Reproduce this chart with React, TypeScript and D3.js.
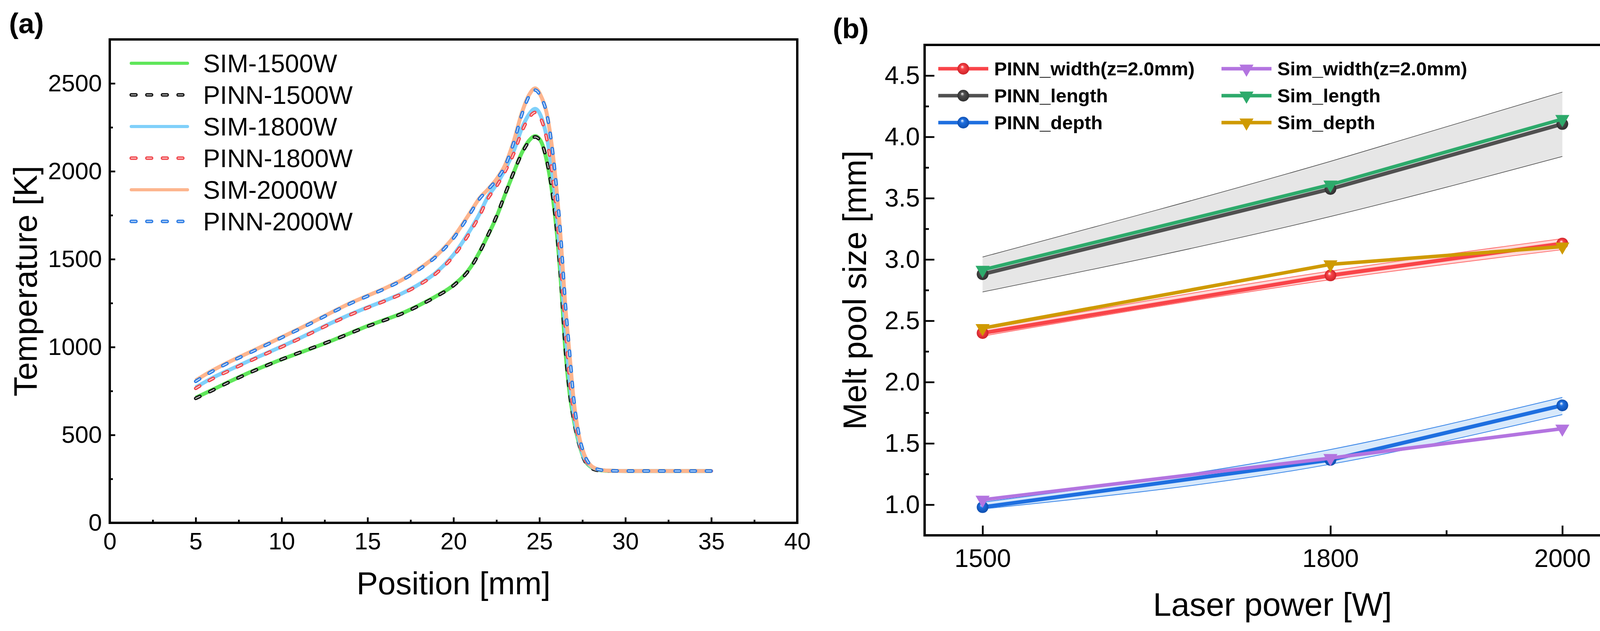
import React, { useEffect, useRef } from 'react';
import * as d3 from 'd3';

const FONT = '"Liberation Sans", Arial, Helvetica, sans-serif';

// ---------- (a) temperature along the track ----------
const positions = [5, 6, 7, 8, 9, 10, 11, 12, 13, 14, 15, 16, 17, 18, 19, 20, 21, 21.5, 22, 22.5, 23, 23.5, 24, 24.4, 24.75, 25.1, 25.4, 25.7, 26, 26.25, 26.5, 26.75, 27, 27.3, 27.6, 28, 28.5, 29, 30, 31, 32, 33, 34, 35];
const sim1500 = [712, 758, 805, 850, 891, 930, 966, 1002, 1040, 1080, 1120, 1155, 1192, 1238, 1290, 1352, 1455, 1538, 1635, 1740, 1868, 1993, 2110, 2175, 2200, 2168, 2070, 1905, 1660, 1365, 990, 740, 585, 452, 364, 318, 300, 296, 295, 295, 295, 295, 295, 295];
const pinn1500 = [708, 755, 803, 848, 890, 930, 967, 1003, 1040, 1079, 1118, 1153, 1190, 1236, 1288, 1350, 1452, 1536, 1636, 1744, 1870, 1994, 2106, 2170, 2195, 2165, 2072, 1910, 1668, 1372, 998, 745, 582, 448, 360, 312, 297, 295, 295, 295, 295, 295, 295, 295];
const sim1800 = [770, 826, 872, 917, 960, 1003, 1048, 1095, 1142, 1186, 1226, 1264, 1305, 1357, 1425, 1525, 1670, 1755, 1855, 1925, 2010, 2115, 2250, 2325, 2355, 2310, 2205, 2025, 1765, 1450, 1110, 815, 615, 465, 370, 322, 302, 297, 295, 295, 295, 295, 295, 295];
const pinn1800 = [765, 821, 868, 914, 958, 1001, 1046, 1093, 1140, 1184, 1224, 1262, 1303, 1354, 1420, 1518, 1660, 1745, 1845, 1915, 2000, 2100, 2232, 2305, 2335, 2295, 2195, 2020, 1770, 1460, 1125, 828, 622, 470, 372, 323, 302, 297, 295, 295, 295, 295, 295, 295];
const sim2000 = [810, 868, 918, 964, 1010, 1056, 1103, 1152, 1202, 1250, 1292, 1334, 1382, 1445, 1520, 1625, 1770, 1845, 1897, 1955, 2035, 2170, 2340, 2435, 2472, 2425, 2340, 2160, 1890, 1600, 1240, 960, 690, 495, 390, 325, 302, 297, 295, 295, 295, 295, 295, 295];
const pinn2000 = [805, 864, 915, 961, 1007, 1054, 1101, 1150, 1200, 1248, 1290, 1332, 1380, 1442, 1516, 1620, 1765, 1842, 1895, 1952, 2030, 2162, 2330, 2428, 2462, 2420, 2338, 2162, 1898, 1612, 1255, 972, 700, 500, 392, 326, 302, 297, 295, 295, 295, 295, 295, 295];
const positionTicks = [0, 5, 10, 15, 20, 25, 30, 35, 40];
const positionMinor = [2.5, 7.5, 12.5, 17.5, 22.5, 27.5, 32.5, 37.5];
const temperatureTicks = [0, 500, 1000, 1500, 2000, 2500];
const temperatureMinor = [250, 750, 1250, 1750, 2250];

// ---------- (b) melt pool size vs laser power ----------
const powers = [1500, 1800, 2000];
const pinnWidth = [2.4, 2.87, 3.13];
const pinnLength = [2.88, 3.575, 4.105];
const pinnDepth = [0.98, 1.365, 1.81];
const simWidth = [1.04, 1.38, 1.62];
const simLength = [2.915, 3.61, 4.145];
const simDepth = [2.44, 2.96, 3.105];
const lengthUpper = [3.02, 3.8, 4.365];
const lengthLower = [2.735, 3.35, 3.84];
const widthUpper = [2.43, 2.905, 3.17];
const widthLower = [2.375, 2.835, 3.08];
const depthUpper = [1.02, 1.45, 1.875];
const depthLower = [0.965, 1.33, 1.735];
const powerTicks = [1500, 1800, 2000];
const powerMinor = [1650, 1900];
const sizeTicks = [1.0, 1.5, 2.0, 2.5, 3.0, 3.5, 4.0, 4.5];
const sizeMinor = [1.25, 1.75, 2.25, 2.75, 3.25, 3.75, 4.25];

const tempSeries = [
  { name: 'SIM-1500W', values: sim1500, color: '#5fe65a', dashed: false },
  { name: 'PINN-1500W', values: pinn1500, color: '#111111', dashed: true },
  { name: 'SIM-1800W', values: sim1800, color: '#80d0fa', dashed: false },
  { name: 'PINN-1800W', values: pinn1800, color: '#f0454a', dashed: true },
  { name: 'SIM-2000W', values: sim2000, color: '#fdb58e', dashed: false },
  { name: 'PINN-2000W', values: pinn2000, color: '#2b7be4', dashed: true },
];

const sizeSeries = [
  { name: 'PINN_width(z=2.0mm)', values: pinnWidth, color: '#f94449', dark: '#c81e24', marker: 'ball' },
  { name: 'PINN_length', values: pinnLength, color: '#505050', dark: '#2a2a2a', marker: 'ball' },
  { name: 'PINN_depth', values: pinnDepth, color: '#1e6fe0', dark: '#0d4aa8', marker: 'ball' },
  { name: 'Sim_width(z=2.0mm)', values: simWidth, color: '#b374e0', dark: '#b374e0', marker: 'tri' },
  { name: 'Sim_length', values: simLength, color: '#2daa6b', dark: '#2daa6b', marker: 'tri' },
  { name: 'Sim_depth', values: simDepth, color: '#cf9a00', dark: '#cf9a00', marker: 'tri' },
];

const bands = [
  { upper: lengthUpper, lower: lengthLower, fill: '#e6e6e6', edge: '#444444', edgeWidth: 1.5 },
  { upper: widthUpper, lower: widthLower, fill: '#ffd9d9', edge: '#ff6a6a', edgeWidth: 2 },
  { upper: depthUpper, lower: depthLower, fill: '#d8e9fb', edge: '#3a86e8', edgeWidth: 2 },
];

// scales
const xA = d3.scaleLinear().domain([0, 40]).range([281, 2041]);
const yA = d3.scaleLinear().domain([0, 2750]).range([1339, 101]);
const xB = d3.scaleLinear().domain([1450, 2050]).range([2367, 4148]);
const yB = d3.scaleLinear().domain([0.75, 4.75]).range([1371, 115]);

const tempLine = d3
  .line<number>()
  .x((_, i) => xA(positions[i]))
  .y((d) => yA(d))
  .curve(d3.curveMonotoneX);

const sizeLine = d3
  .line<number>()
  .x((_, i) => xB(powers[i]))
  .y((d) => yB(d));

const triangle = d3.symbol().type(d3.symbolTriangle).size(560)() as string;

interface AxisProps {
  axis: d3.Axis<d3.NumberValue>;
  transform: string;
  fontSize: number;
}

const Axis: React.FC<AxisProps> = ({ axis, transform, fontSize }) => {
  const ref = useRef<SVGGElement | null>(null);
  useEffect(() => {
    if (!ref.current) return;
    const g = d3.select(ref.current);
    g.call(axis);
    g.attr('font-size', fontSize).attr('font-family', FONT);
    g.select('.domain').remove();
    g.selectAll('line').attr('stroke', '#000').attr('stroke-width', 4.5);
    g.selectAll('text').attr('fill', '#000');
  }, [axis, fontSize]);
  return <g ref={ref} transform={transform} />;
};

const Marker: React.FC<{ kind: string; x: number; y: number; color: string; id: string }> = ({ kind, x, y, color, id }) =>
  kind === 'ball' ? (
    <circle cx={x} cy={y} r={15} fill={`url(#${id})`} />
  ) : (
    <path d={triangle} transform={`translate(${x},${y}) rotate(180)`} fill={color} />
  );

const DashedPath: React.FC<{ d: string; color: string }> = ({ d, color }) => (
  <g fill="none" strokeLinecap="round" strokeLinejoin="round">
    <path d={d} stroke={color} strokeWidth={9} strokeDasharray="12 28" />
    <path d={d} stroke="#ffffff" strokeOpacity={0.75} strokeWidth={2.6} strokeDasharray="12 28" />
  </g>
);

const App: React.FC = () => {
  const intFmt = d3.format('d') as any;
  const axisAY = d3.axisLeft(yA).tickValues(temperatureTicks).tickSizeInner(-14).tickSizeOuter(0).tickPadding(20).tickFormat(intFmt);
  const axisAYm = d3.axisLeft(yA).tickValues(temperatureMinor).tickSizeInner(-8).tickSizeOuter(0).tickFormat(() => '');
  const axisAX = d3.axisBottom(xA).tickValues(positionTicks).tickSizeInner(-14).tickSizeOuter(0).tickPadding(25).tickFormat(intFmt);
  const axisAXm = d3.axisBottom(xA).tickValues(positionMinor).tickSizeInner(-8).tickSizeOuter(0).tickFormat(() => '');

  const axisBY = d3.axisLeft(yB).tickValues(sizeTicks).tickSizeInner(-25).tickSizeOuter(0).tickPadding(12).tickFormat(d3.format('.1f') as any);
  const axisBYm = d3.axisLeft(yB).tickValues(sizeMinor).tickSizeInner(-11).tickSizeOuter(0).tickFormat(() => '');
  const axisBX = d3.axisBottom(xB).tickValues(powerTicks).tickSizeInner(-25).tickSizeOuter(0).tickPadding(35).tickFormat(intFmt);
  const axisBXm = d3.axisBottom(xB).tickValues(powerMinor).tickSizeInner(-13).tickSizeOuter(0).tickFormat(() => '');

  const legendA = { x0: 332, x1: 484, tx: 520, y0: 162, dy: 81 };
  const legendB = { cols: [2402, 3127], len: 128, gap: 15, y0: 176, dy: 69 };

  return (
    <div style={{ position: 'absolute', left: 0, top: 0 }}>
      <svg width={4173} height={1616} viewBox="0 0 4173 1616" style={{ display: 'block', background: '#fff' }} fontFamily={FONT}>
        <defs>
          {sizeSeries
            .filter((s) => s.marker === 'ball')
            .map((s, i) => (
              <radialGradient key={s.name} id={`ball${i}`} cx="0.5" cy="0.5" r="0.55" fx="0.4" fy="0.32">
                <stop offset="0" stopColor="#ffffff" />
                <stop offset="0.3" stopColor={s.color} />
                <stop offset="1" stopColor={s.dark} />
              </radialGradient>
            ))}
        </defs>

        {/* ---------------- panel (a) ---------------- */}
        <text x={23} y={85} fontSize={73} fontWeight="bold">(a)</text>

        {tempSeries.map((s) =>
          s.dashed ? (
            <DashedPath key={s.name} d={tempLine(s.values) as string} color={s.color} />
          ) : (
            <path key={s.name} d={tempLine(s.values) as string} fill="none" stroke={s.color} strokeWidth={10} strokeLinejoin="round" />
          )
        )}

        <rect x={xA(0)} y={yA(2750)} width={xA(40) - xA(0)} height={yA(0) - yA(2750)} fill="none" stroke="#000" strokeWidth={6} />
        <Axis axis={axisAY} transform={`translate(${xA(0)},0)`} fontSize={62} />
        <Axis axis={axisAYm} transform={`translate(${xA(0)},0)`} fontSize={62} />
        <Axis axis={axisAX} transform={`translate(0,${yA(0)})`} fontSize={61} />
        <Axis axis={axisAXm} transform={`translate(0,${yA(0)})`} fontSize={61} />

        <text x={(xA(0) + xA(40)) / 2} y={1522} fontSize={82} textAnchor="middle">Position [mm]</text>
        <text transform={`translate(94,${(yA(0) + yA(2750)) / 2}) rotate(-90)`} fontSize={83} textAnchor="middle">Temperature [K]</text>

        {tempSeries.map((s, i) => {
          const y = legendA.y0 + i * legendA.dy;
          const d = `M${legendA.x0 + 4},${y}H${legendA.x1 - 4}`;
          return (
            <g key={s.name}>
              {s.dashed ? (
                <DashedPath d={d} color={s.color} />
              ) : (
                <path d={d} stroke={s.color} strokeWidth={8} strokeLinecap="round" />
              )}
              <text x={legendA.tx} y={y + 23} fontSize={65}>{s.name}</text>
            </g>
          );
        })}

        {/* ---------------- panel (b) ---------------- */}
        <text x={2132} y={98} fontSize={72} fontWeight="bold">(b)</text>

        {bands.map((b, i) => {
          const area = d3
            .area<number>()
            .x((_, j) => xB(powers[j]))
            .y0((_, j) => yB(b.lower[j]))
            .y1((d) => yB(d))
            .curve(d3.curveMonotoneX);
          const edge = d3
            .line<number>()
            .x((_, j) => xB(powers[j]))
            .y((d) => yB(d))
            .curve(d3.curveMonotoneX);
          return (
            <g key={i}>
              <path d={area(b.upper) as string} fill={b.fill} />
              <path d={edge(b.upper) as string} fill="none" stroke={b.edge} strokeWidth={b.edgeWidth} />
              <path d={edge(b.lower) as string} fill="none" stroke={b.edge} strokeWidth={b.edgeWidth} />
            </g>
          );
        })}

        {sizeSeries.map((s, i) => (
          <g key={s.name}>
            <path d={sizeLine(s.values) as string} fill="none" stroke={s.color} strokeWidth={s.marker === 'ball' ? 10 : 9} strokeLinejoin="round" />
            {s.values.map((v, j) => (
              <Marker key={j} kind={s.marker} x={xB(powers[j])} y={yB(v)} color={s.color} id={`ball${i}`} />
            ))}
          </g>
        ))}

        <rect x={xB(1450)} y={yB(4.75)} width={xB(2050) - xB(1450)} height={yB(0.75) - yB(4.75)} fill="none" stroke="#000" strokeWidth={6} />
        <Axis axis={axisBY} transform={`translate(${xB(1450)},0)`} fontSize={65} />
        <Axis axis={axisBYm} transform={`translate(${xB(1450)},0)`} fontSize={65} />
        <Axis axis={axisBX} transform={`translate(0,${yB(0.75)})`} fontSize={65} />
        <Axis axis={axisBXm} transform={`translate(0,${yB(0.75)})`} fontSize={65} />

        <text x={(xB(1450) + xB(2050)) / 2} y={1577} fontSize={84} textAnchor="middle">Laser power [W]</text>
        <text transform={`translate(2217,${(yB(0.75) + yB(4.75)) / 2}) rotate(-90)`} fontSize={83} textAnchor="middle">Melt pool size [mm]</text>

        {sizeSeries.map((s, i) => {
          const col = Math.floor(i / 3);
          const x0 = legendB.cols[col];
          const y = legendB.y0 + (i % 3) * legendB.dy;
          return (
            <g key={s.name}>
              <path d={`M${x0},${y}H${x0 + legendB.len}`} stroke={s.color} strokeWidth={9} />
              <Marker kind={s.marker} x={x0 + legendB.len / 2} y={y} color={s.color} id={`ball${i}`} />
              <text x={x0 + legendB.len + legendB.gap} y={y + 17} fontSize={49} fontWeight="bold">{s.name}</text>
            </g>
          );
        })}
      </svg>
    </div>
  );
};

export default App;
